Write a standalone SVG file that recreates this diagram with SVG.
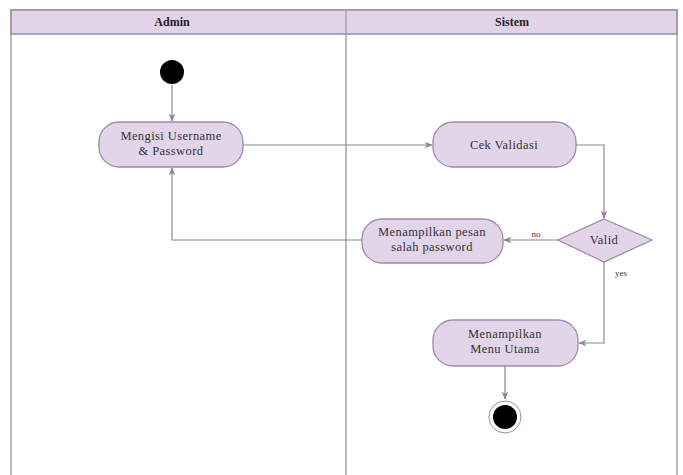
<svg xmlns="http://www.w3.org/2000/svg" width="683" height="475" viewBox="0 0 683 475">
<defs>
<style>
.lane{fill:#ffffff;stroke:#a8a0ae;stroke-width:1.5}
.hdr{fill:#e3d3e9;stroke:#9a8aa6;stroke-width:1.5}
.ht{font-family:"Liberation Serif",serif;font-size:12px;font-weight:bold;fill:#222;text-anchor:middle}
.node{fill:#e2d5ea;stroke:#9c8ca8;stroke-width:1.3}
.t{font-family:"Liberation Serif",serif;font-size:12.5px;letter-spacing:0.4px;fill:#333;text-anchor:middle}
.lbl{font-family:"Liberation Serif",serif;font-size:9px;fill:#333;text-anchor:middle}
.c{fill:none;stroke:#8f8198;stroke-width:1.2;marker-end:url(#ah)}
</style>
<marker id="ah" viewBox="0 0 10 10" refX="9" refY="5" markerWidth="7" markerHeight="7" orient="auto">
<path d="M0,1 L10,5 L0,9 L3,5 Z" fill="#8f8198"/>
</marker>
</defs>
<rect width="683" height="475" fill="#ffffff"/>
<g id="lanes">
<rect class="lane" x="11" y="10" width="666" height="470"/>
<rect class="hdr" x="11" y="10" width="666" height="24"/>
<line x1="346" y1="10" x2="346" y2="475" stroke="#a8a0ae" stroke-width="1.5"/>
<text class="ht" x="172" y="26">Admin</text>
<text class="ht" x="512" y="26">Sistem</text>
</g>
<g id="connectors">
<path class="c" d="M172,85 V121"/>
<path class="c" d="M243,145 H432"/>
<path class="c" d="M576,145 H604 V218"/>
<path class="c" d="M558,240 H504"/>
<path class="c" d="M362,240 H172 V168"/>
<path class="c" d="M604,262 V343 H579"/>
<path class="c" d="M505,366 V399"/>
<text class="lbl" x="536" y="237">no</text>
<text class="lbl" x="621" y="276">yes</text>
</g>
<g id="start"><circle cx="172" cy="72" r="12" fill="#000"/></g>
<g id="mengisi">
<rect class="node" x="99" y="122" width="144" height="45" rx="20"/>
<text class="t" x="171" y="140">Mengisi Username</text>
<text class="t" x="171" y="155">&amp; Password</text>
</g>
<g id="cek">
<rect class="node" x="433" y="122" width="143" height="45" rx="20"/>
<text class="t" x="504" y="149">Cek Validasi</text>
</g>
<g id="valid">
<polygon class="node" points="604,219 652,240 604,262 558,240"/>
<text class="t" x="604" y="244">Valid</text>
</g>
<g id="pesan">
<rect class="node" x="362" y="219" width="141" height="44" rx="20"/>
<text class="t" x="432" y="236">Menampilkan pesan</text>
<text class="t" x="432" y="251">salah password</text>
</g>
<g id="menu">
<rect class="node" x="433" y="320" width="145" height="46" rx="20"/>
<text class="t" x="505" y="338">Menampilkan</text>
<text class="t" x="505" y="353">Menu Utama</text>
</g>
<g id="end">
<circle cx="505" cy="417" r="16" fill="#fff" stroke="#9c8ca8" stroke-width="1"/>
<circle cx="505" cy="417" r="12" fill="#000"/>
</g>
</svg>
